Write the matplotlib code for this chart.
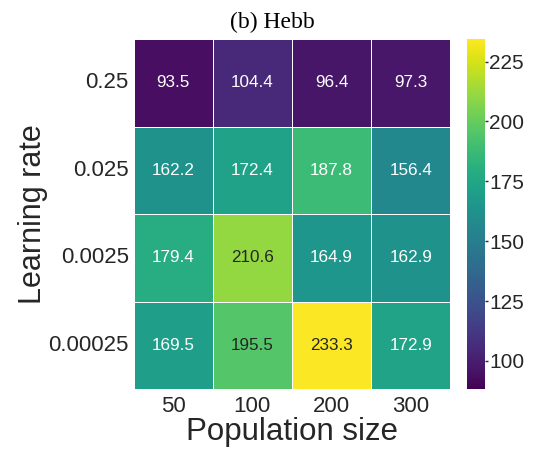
import numpy as np
import pandas as pd
import matplotlib
matplotlib.use("Agg")
import matplotlib.pyplot as plt
import seaborn as sns

population_sizes = ["50", "100", "200", "300"]
learning_rates = ["0.25", "0.025", "0.0025", "0.00025"]
scores = [
    [93.5, 104.4, 96.4, 97.3],
    [162.2, 172.4, 187.8, 156.4],
    [179.4, 210.6, 164.9, 162.9],
    [169.5, 195.5, 233.3, 172.9],
]
color_min, color_max = 88.3, 234.4

sns.set_theme(style="white")
plt.rcParams["font.family"] = ["Liberation Sans", "DejaVu Sans"]

df = pd.DataFrame(scores, index=learning_rates, columns=population_sizes)

fig = plt.figure(figsize=(5.43, 4.49), dpi=100)
W, H = 543, 449
ax = fig.add_axes([133.5 / W, 1 - 389 / H, 317 / W, 350 / H])
cax = fig.add_axes([467.3 / W, 1 - 389 / H, 17.7 / W, 350 / H])

sns.heatmap(df, ax=ax, cbar_ax=cax, cmap="viridis", vmin=color_min, vmax=color_max,
            annot=True, fmt=".1f", linewidths=0.7, linecolor="white",
            annot_kws={"fontsize": 12.3})

fig.text(272 / W, 1 - 28 / H, "(b) Hebb", fontsize=17, ha="center", va="baseline",
         family=["Liberation Serif", "DejaVu Serif"], color="black")
ax.set_xlabel("Population size", fontsize=22.5, color="#262626", labelpad=0)
ax.set_ylabel("Learning rate", fontsize=22, color="#262626", labelpad=0)
ax.tick_params(axis="both", labelsize=16, colors="#262626", length=0)
ax.tick_params(axis="x", pad=5)
ax.set_yticklabels(learning_rates, rotation=0)
ax.set_xticklabels(population_sizes, rotation=0)

cax.tick_params(labelsize=15, colors="#262626", length=2, width=1, pad=1,
                left=False, right=True)
cax.set_yticks([100, 125, 150, 175, 200, 225])
for s in cax.spines.values():
    s.set_visible(False)

fig.savefig("out.png", dpi=100)
